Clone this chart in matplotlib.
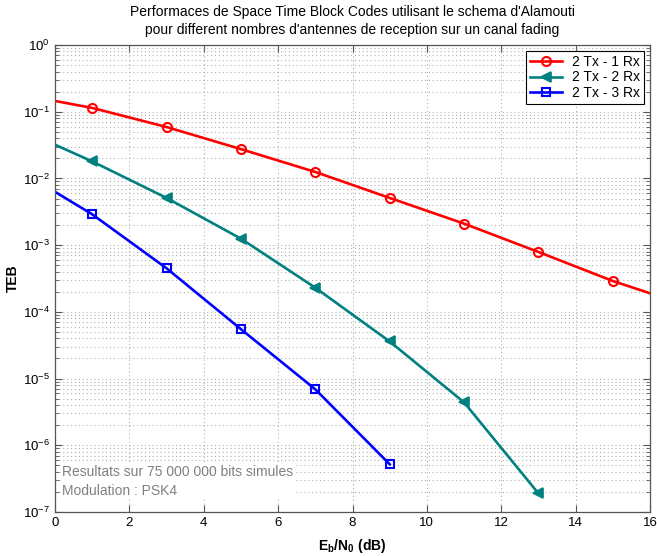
import matplotlib
matplotlib.use("Agg")
import matplotlib.pyplot as plt
from matplotlib.ticker import LogLocator, NullFormatter, MultipleLocator

plt.rcParams['font.family'] = ['Liberation Sans', 'DejaVu Sans']
plt.rcParams['mathtext.fontset'] = 'custom'
plt.rcParams['mathtext.rm'] = 'Liberation Sans'
plt.rcParams['mathtext.it'] = 'Liberation Sans:italic'
plt.rcParams['mathtext.bf'] = 'Liberation Sans:bold'

# Data
x_1rx = [0, 1, 3, 5, 7, 9, 11, 13, 15, 16]
teb_1rx = [0.145, 0.114, 0.059, 0.0275, 0.0125, 0.0051, 0.0021, 7.9e-4, 2.9e-4, 1.9e-4]
x_2rx = [0, 1, 3, 5, 7, 9, 11, 13]
teb_2rx = [0.032, 0.018, 5.1e-3, 1.25e-3, 2.3e-4, 3.6e-5, 4.4e-6, 1.9e-7]
x_3rx = [0, 1, 3, 5, 7, 9]
teb_3rx = [6.3e-3, 2.9e-3, 4.5e-4, 5.5e-5, 6.9e-6, 5.2e-7]

labels = ['2 Tx - 1 Rx', '2 Tx - 2 Rx', '2 Tx - 3 Rx']
title = ("Performaces de Space Time Block Codes utilisant le schema d'Alamouti\n"
         "pour different nombres d'antennes de reception sur un canal fading")
note = "Resultats sur 75 000 000 bits simules\nModulation : PSK4"

fig = plt.figure(figsize=(6.57, 5.56), dpi=100)
ax = fig.add_axes([55/657, 1-512/556, (650-55)/657, (512-45)/556])

teal = '#008080'
ax.semilogy(x_1rx, teb_1rx, color='red', lw=1.9, marker='o', ms=6.5, mfc='none',
            mew=1.5, markevery=list(range(1, len(x_1rx)-1)), label=labels[0])
ax.semilogy(x_2rx, teb_2rx, color=teal, lw=1.9, marker='<', ms=7, mfc=teal,
            mew=1.2, markevery=list(range(1, len(x_2rx))), label=labels[1])
ax.semilogy(x_3rx, teb_3rx, color='blue', lw=1.9, marker='s', ms=6, mfc='none',
            mew=1.5, markevery=list(range(1, len(x_3rx))), label=labels[2])

ax.set_xlim(0, 16)
ax.set_ylim(1e-7, 1)
ax.xaxis.set_major_locator(MultipleLocator(2))
ax.yaxis.set_major_locator(LogLocator(base=10, numticks=20))
ax.yaxis.set_minor_locator(LogLocator(base=10, subs=range(2, 10), numticks=20))
ax.yaxis.set_minor_formatter(NullFormatter())

ax.grid(True, which='major', axis='both', color='#b0b0b0', ls=(0, (1, 2.5)), lw=0.8)
ax.grid(True, which='minor', axis='y', color='#b0b0b0', ls=(0, (1, 2.5)), lw=0.8)
ax.tick_params(which='both', direction='in', top=True, right=True, labelsize=9.5,
               colors='#555555', labelcolor='black')
ax.tick_params(which='major', length=5)
ax.tick_params(which='minor', length=3)
for s in ax.spines.values():
    s.set_color('#555555')
    s.set_linewidth(0.9)

ax.set_title(title, fontsize=10, pad=8, linespacing=1.35)
ax.set_ylabel('TEB', fontsize=10, fontweight='bold', labelpad=2)
ax.set_xlabel(r'E$_\mathbf{b}$/N$_\mathbf{0}$ (dB)', fontsize=10, fontweight='bold', labelpad=6)

leg = ax.legend(loc='upper right', fontsize=10, fancybox=False, framealpha=1,
                edgecolor='black', borderaxespad=0.4, handlelength=2.3,
                borderpad=0.3, labelspacing=0.12, handletextpad=0.7)
leg.get_frame().set_linewidth(0.8)

ax.text(0.012, 0.03, note, transform=ax.transAxes, fontsize=10, color='#808080',
        va='bottom', ha='left', linespacing=1.45,
        bbox=dict(facecolor='white', edgecolor='none', pad=1))

fig.savefig('out.png', dpi=100)
